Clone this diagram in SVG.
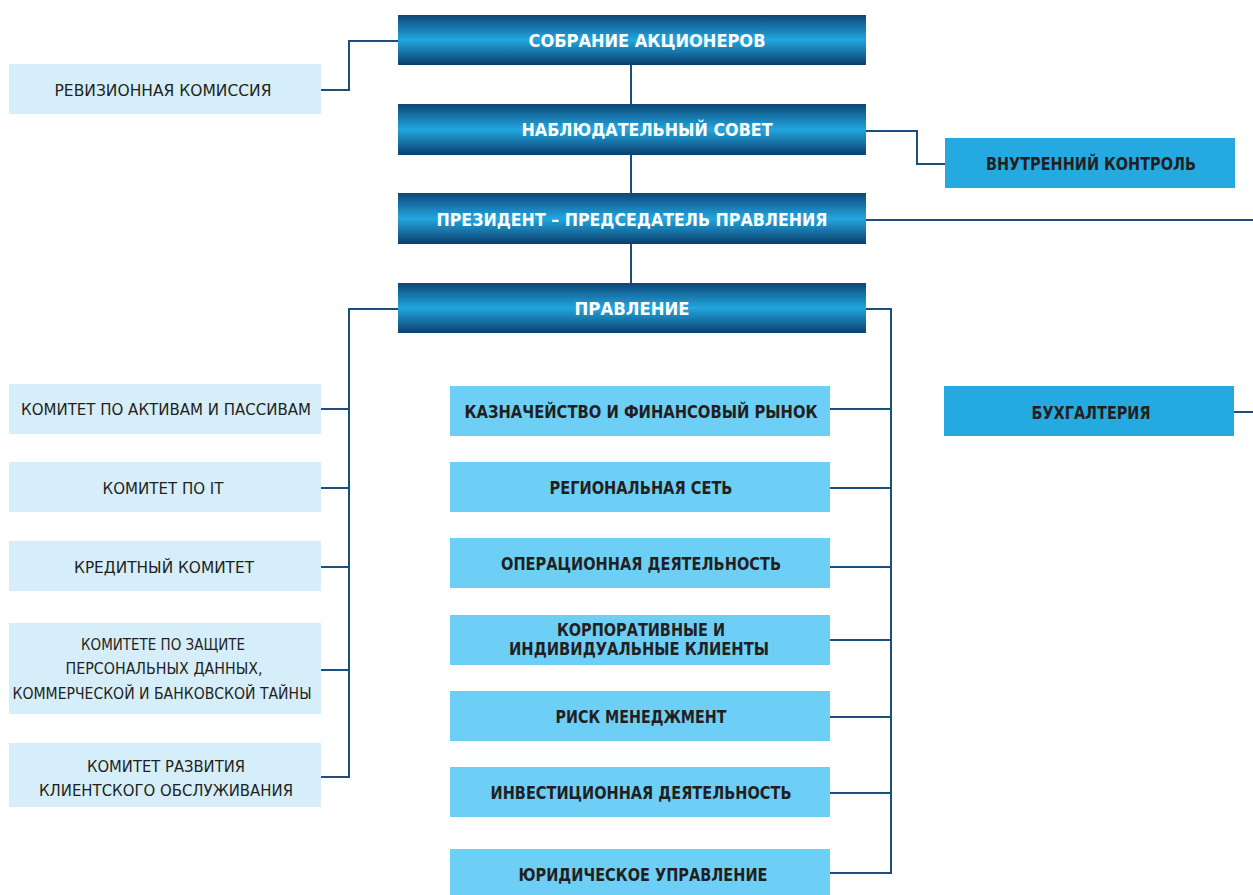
<svg xmlns="http://www.w3.org/2000/svg" width="1253" height="895" viewBox="0 0 1253 895">
<defs>
<linearGradient id="hg" x1="0" y1="0" x2="0" y2="1">
<stop offset="0" stop-color="#0d4677"/>
<stop offset="0.5" stop-color="#22a6df"/>
<stop offset="1" stop-color="#0b3f6d"/>
</linearGradient>
<style>
.hd{fill:url(#hg)}
.ht{font-family:"DejaVu Sans","Liberation Sans",sans-serif;font-weight:bold;font-size:18px;fill:#ffffff;text-anchor:middle}
.lb{fill:#d6eefa}
.lt{font-family:"DejaVu Sans","Liberation Sans",sans-serif;font-size:16.5px;fill:#231f20;text-anchor:middle}
.cb{fill:#6dcff6}
.bb{fill:#24a9e1}
.ct{font-family:"DejaVu Sans","Liberation Sans",sans-serif;font-weight:bold;font-size:18px;fill:#231f20;text-anchor:middle}
.cn{fill:none;stroke:#1b4f7e;stroke-width:2}
</style>
</defs>
<g id="connectors">
<polyline class="cn" points="321,90 349,90 349,41 398,41"/>
<line class="cn" x1="631" y1="65" x2="631" y2="104"/>
<line class="cn" x1="631" y1="155" x2="631" y2="193"/>
<line class="cn" x1="631" y1="244" x2="631" y2="283"/>
<polyline class="cn" points="866,131 917,131 917,164 945,164"/>
<line class="cn" x1="866" y1="220" x2="1253" y2="220"/>
<polyline class="cn" points="398,309 349,309 349,777 321,777"/>
<line class="cn" x1="321" y1="409" x2="349" y2="409"/>
<line class="cn" x1="321" y1="488" x2="349" y2="488"/>
<line class="cn" x1="321" y1="567" x2="349" y2="567"/>
<line class="cn" x1="321" y1="670" x2="349" y2="670"/>
<polyline class="cn" points="866,309 891,309 891,873 830,873"/>
<line class="cn" x1="830" y1="409" x2="891" y2="409"/>
<line class="cn" x1="830" y1="488" x2="891" y2="488"/>
<line class="cn" x1="830" y1="567" x2="891" y2="567"/>
<line class="cn" x1="830" y1="640" x2="891" y2="640"/>
<line class="cn" x1="830" y1="717" x2="891" y2="717"/>
<line class="cn" x1="830" y1="793" x2="891" y2="793"/>
<line class="cn" x1="1234" y1="412" x2="1253" y2="412"/>
</g>
<g id="sobranie"><rect class="hd" x="398" y="15" width="468" height="50"/><text class="ht" x="647" y="47" textLength="237" lengthAdjust="spacingAndGlyphs">СОБРАНИЕ АКЦИОНЕРОВ</text></g>
<g id="sovet"><rect class="hd" x="398" y="104" width="468" height="51"/><text class="ht" x="647" y="136" textLength="251" lengthAdjust="spacingAndGlyphs">НАБЛЮДАТЕЛЬНЫЙ СОВЕТ</text></g>
<g id="president"><rect class="hd" x="398" y="193" width="468" height="51"/><text class="ht" x="632" y="226" textLength="391" lengthAdjust="spacingAndGlyphs">ПРЕЗИДЕНТ – ПРЕДСЕДАТЕЛЬ ПРАВЛЕНИЯ</text></g>
<g id="pravlenie"><rect class="hd" x="398" y="283" width="468" height="50"/><text class="ht" x="632" y="315" textLength="115" lengthAdjust="spacingAndGlyphs">ПРАВЛЕНИЕ</text></g>
<g id="revizion"><rect class="lb" x="9" y="64" width="312" height="50"/><text class="lt" x="163" y="96" textLength="217" lengthAdjust="spacingAndGlyphs">РЕВИЗИОННАЯ КОМИССИЯ</text></g>
<g id="vnutr"><rect class="bb" x="945" y="138" width="290" height="50"/><text class="ct" x="1091" y="170" textLength="210" lengthAdjust="spacingAndGlyphs">ВНУТРЕННИЙ КОНТРОЛЬ</text></g>
<g id="buh"><rect class="bb" x="944" y="386" width="290" height="50"/><text class="ct" x="1091" y="419" textLength="119" lengthAdjust="spacingAndGlyphs">БУХГАЛТЕРИЯ</text></g>
<g id="kom1"><rect class="lb" x="9" y="384" width="312" height="50"/><text class="lt" x="166" y="415" textLength="290" lengthAdjust="spacingAndGlyphs">КОМИТЕТ ПО АКТИВАМ И ПАССИВАМ</text></g>
<g id="kom2"><rect class="lb" x="9" y="462" width="312" height="50"/><text class="lt" x="163" y="494" textLength="121" lengthAdjust="spacingAndGlyphs">КОМИТЕТ ПО IT</text></g>
<g id="kom3"><rect class="lb" x="9" y="541" width="312" height="50"/><text class="lt" x="164" y="573" textLength="180" lengthAdjust="spacingAndGlyphs">КРЕДИТНЫЙ КОМИТЕТ</text></g>
<g id="kom4"><rect class="lb" x="9" y="623" width="312" height="91"/><text class="lt" x="163" y="650" textLength="164" lengthAdjust="spacingAndGlyphs">КОМИТЕТЕ ПО ЗАЩИТЕ</text><text class="lt" x="164" y="674" textLength="197" lengthAdjust="spacingAndGlyphs">ПЕРСОНАЛЬНЫХ ДАННЫХ,</text><text class="lt" x="162" y="699" textLength="299" lengthAdjust="spacingAndGlyphs">КОММЕРЧЕСКОЙ И БАНКОВСКОЙ ТАЙНЫ</text></g>
<g id="kom5"><rect class="lb" x="9" y="743" width="312" height="64"/><text class="lt" x="166" y="772" textLength="158" lengthAdjust="spacingAndGlyphs">КОМИТЕТ РАЗВИТИЯ</text><text class="lt" x="166" y="796" textLength="254" lengthAdjust="spacingAndGlyphs">КЛИЕНТСКОГО ОБСЛУЖИВАНИЯ</text></g>
<g id="kazn"><rect class="cb" x="450" y="386" width="380" height="50"/><text class="ct" x="641" y="418" textLength="353" lengthAdjust="spacingAndGlyphs">КАЗНАЧЕЙСТВО И ФИНАНСОВЫЙ РЫНОК</text></g>
<g id="region"><rect class="cb" x="450" y="462" width="380" height="50"/><text class="ct" x="641" y="494" textLength="183" lengthAdjust="spacingAndGlyphs">РЕГИОНАЛЬНАЯ СЕТЬ</text></g>
<g id="oper"><rect class="cb" x="450" y="538" width="380" height="50"/><text class="ct" x="641" y="570" textLength="280" lengthAdjust="spacingAndGlyphs">ОПЕРАЦИОННАЯ ДЕЯТЕЛЬНОСТЬ</text></g>
<g id="korp"><rect class="cb" x="450" y="615" width="380" height="50"/><text class="ct" x="641" y="636" textLength="168" lengthAdjust="spacingAndGlyphs">КОРПОРАТИВНЫЕ И</text><text class="ct" x="639" y="655" textLength="260" lengthAdjust="spacingAndGlyphs">ИНДИВИДУАЛЬНЫЕ КЛИЕНТЫ</text></g>
<g id="risk"><rect class="cb" x="450" y="691" width="380" height="50"/><text class="ct" x="641" y="723" textLength="171" lengthAdjust="spacingAndGlyphs">РИСК МЕНЕДЖМЕНТ</text></g>
<g id="invest"><rect class="cb" x="450" y="767" width="380" height="50"/><text class="ct" x="641" y="799" textLength="301" lengthAdjust="spacingAndGlyphs">ИНВЕСТИЦИОННАЯ ДЕЯТЕЛЬНОСТЬ</text></g>
<g id="yurid"><rect class="cb" x="450" y="849" width="380" height="46"/><text class="ct" x="643" y="881" textLength="249" lengthAdjust="spacingAndGlyphs">ЮРИДИЧЕСКОЕ УПРАВЛЕНИЕ</text></g>
</svg>
